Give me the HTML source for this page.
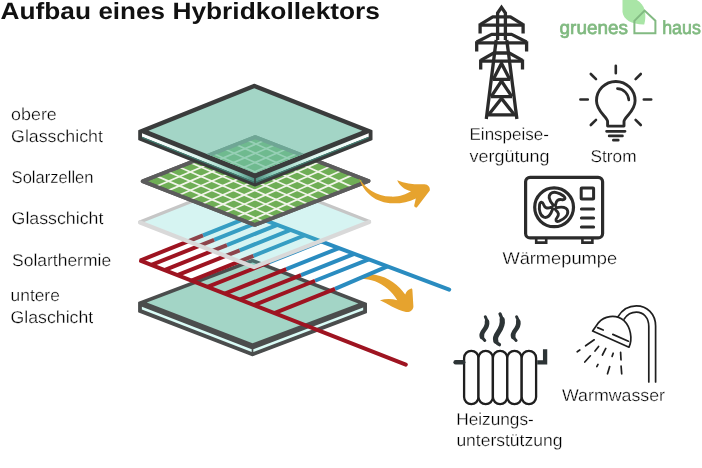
<!DOCTYPE html>
<html><head><meta charset="utf-8"><title>Aufbau eines Hybridkollektors</title>
<style>
html,body{margin:0;padding:0;background:#fff;}
body{width:702px;height:468px;overflow:hidden;font-family:"Liberation Sans",sans-serif;}
svg{display:block;will-change:transform;text-rendering:geometricPrecision;}
</style></head><body>
<svg width="702" height="468" viewBox="0 0 702 468">
<rect width="702" height="468" fill="#ffffff"/>
<g id="g3">
<polygon points="252.50,259.50 366.20,303.40 366.20,312.60 252.50,355.50 138.90,311.80 138.90,302.60" fill="#4b4d4d" stroke="#4b4d4d" stroke-width="1.6" stroke-linejoin="round"/>
<polygon points="252.50,262.50 358.35,303.40 252.50,343.30 146.75,302.60" fill="#a3d5c6"/>
<polygon points="141.90,306.80 251.70,349.30 251.70,352.00 141.90,309.50" fill="#d9fbf6"/>
<polygon points="363.20,307.60 253.30,349.30 253.30,352.00 363.20,310.30" fill="#d9fbf6"/>
</g>
<path d="M354.3 279.4 C360 275.5 368 273.8 375 274.8 C389 277 399 286 405.2 294.4 C406.2 291.5 408 289.6 411.2 288.5 C412 288.4 412.4 289 412.4 290 L413.4 306.5 C413.2 310 410 312.5 406 312 C396 309.5 388 304 380 300.2 C385.5 298.5 391.5 298.5 397.3 300.2 C392 291.5 384 284.5 375 281.2 C368 278.8 361 278.6 354.3 279.4Z" fill="#e6a32e"/>
<g id="pipes" fill="none" stroke-width="4" stroke-linecap="butt">
<path d="M203.00 235.41L252.56 215.58" stroke="#2a8cc0"/>
<path d="M140.12 260.56L203.00 235.41" stroke="#9e1421"/>
<path d="M214.10 239.90L264.08 219.91" stroke="#2a8cc0"/>
<path d="M151.41 264.98L214.10 239.90" stroke="#9e1421"/>
<path d="M226.90 245.08L277.35 224.90" stroke="#2a8cc0"/>
<path d="M164.43 270.07L226.90 245.08" stroke="#9e1421"/>
<path d="M239.70 250.27L290.63 229.90" stroke="#2a8cc0"/>
<path d="M177.44 275.17L239.70 250.27" stroke="#9e1421"/>
<path d="M253.40 255.82L304.84 235.24" stroke="#2a8cc0"/>
<path d="M191.37 280.63L253.40 255.82" stroke="#9e1421"/>
<path d="M269.30 262.26L321.34 241.44" stroke="#2a8cc0"/>
<path d="M207.54 286.96L269.30 262.26" stroke="#9e1421"/>
<path d="M286.30 269.14L338.97 248.07" stroke="#2a8cc0"/>
<path d="M224.83 293.73L286.30 269.14" stroke="#9e1421"/>
<path d="M301.00 275.10L354.22 253.81" stroke="#2a8cc0"/>
<path d="M239.78 299.58L301.00 275.10" stroke="#9e1421"/>
<path d="M315.00 280.76L368.75 259.27" stroke="#2a8cc0"/>
<path d="M254.02 305.16L315.00 280.76" stroke="#9e1421"/>
<path d="M335.00 288.87L387.47 266.30" stroke="#2a8cc0"/>
<path d="M274.35 313.12L335.00 288.87" stroke="#9e1421"/>
<path d="M252.56 215.58L449.2 289.6" stroke="#2a8cc0" stroke-linecap="round"/>
<path d="M141.0 260.9L405.8 364.6" stroke="#9e1421" stroke-linecap="round"/>
</g>
<polygon points="254.50,176.50 369.40,221.50 254.00,266.60 139.80,222.00" fill="rgba(90,212,204,0.25)"/>
<polyline points="139.80,222.00 254.50,176.50 369.40,221.50" fill="none" stroke="#c6c6c6" stroke-width="3" stroke-linejoin="round" stroke-linecap="round"/>
<polyline points="140.10,222.50 254.00,267.10 369.10,222.00" fill="none" stroke="#d9d9d9" stroke-width="4.2" stroke-linejoin="round" stroke-linecap="round"/>
<g id="solar">
<polygon points="255.20,137.00 368.60,181.00 254.80,225.00 142.60,181.20" fill="#6fae56" stroke="#5c5c5c" stroke-width="3.6" stroke-linejoin="round"/>
<g stroke="#f2f5ea" stroke-width="1.7">
<path d="M156.05 186.45L264.18 140.48"/>
<path d="M156.10 175.90L263.81 221.52"/>
<path d="M167.41 190.89L275.25 144.78"/>
<path d="M167.50 171.43L274.92 217.22"/>
<path d="M178.77 195.32L286.32 149.07"/>
<path d="M178.90 166.95L286.03 212.93"/>
<path d="M190.13 199.75L297.39 153.37"/>
<path d="M190.30 162.48L297.14 208.63"/>
<path d="M201.49 204.19L308.46 157.66"/>
<path d="M201.70 158.00L308.25 204.34"/>
<path d="M212.85 208.62L319.53 161.96"/>
<path d="M213.10 153.53L319.36 200.04"/>
<path d="M224.21 213.06L330.60 166.26"/>
<path d="M224.50 149.05L330.47 195.74"/>
<path d="M235.57 217.49L341.67 170.55"/>
<path d="M235.90 144.58L341.58 191.45"/>
<path d="M246.93 221.93L352.74 174.85"/>
<path d="M247.30 140.10L352.69 187.15"/>
</g>
<polygon points="255.20,137.00 368.60,181.00 254.80,225.00 142.60,181.20" fill="none" stroke="#5c5c5c" stroke-width="3.6" stroke-linejoin="round"/>
</g>
<path d="M359.3 178.4 C365 188 376 196 391 196.6 C399 197 406 194.5 411 191.3 C404 189.5 399.5 185.5 397.2 180.2 C406 184 416 184.6 424.5 184.2 C428 184.4 430.3 187 429.8 190.6 L416.8 207.4 C415.5 208 414.3 207 414.2 205.6 L415.8 198.4 C408 202.5 399 203.8 390 203.2 C373 201.5 362.5 190 359.3 178.4Z" fill="#e6a32e"/>
<defs><clipPath id="cg1"><polygon points="254.60,88.20 362.20,130.70 255.00,173.00 148.40,130.70"/></clipPath>
<linearGradient id="sL" x1="0" x2="1" y1="0" y2="0"><stop offset="0" stop-color="#ffffff"/><stop offset=".5" stop-color="#dcf6ef"/><stop offset=".85" stop-color="#8ccdbb"/><stop offset="1" stop-color="#4f8f80"/></linearGradient>
<linearGradient id="sR" x1="0" x2="1" y1="0" y2="0"><stop offset="0" stop-color="#4f8f80"/><stop offset=".15" stop-color="#8ccdbb"/><stop offset=".5" stop-color="#dcf6ef"/><stop offset="1" stop-color="#ffffff"/></linearGradient>
</defs>
<g id="g1">
<polygon points="254.30,84.50 371.70,130.70 371.70,139.50 255.00,185.80 139.00,139.50 139.00,130.70" fill="#3a3c3c" stroke="#3a3c3c" stroke-width="1.6" stroke-linejoin="round"/>
<polygon points="254.30,88.27 362.22,130.70 255.00,173.23 148.48,130.70" fill="#a3d5c6"/>
<polygon points="142.00,133.20 254.20,178.30 254.20,181.80 142.00,136.70" fill="url(#sL)"/>
<polygon points="368.70,133.20 255.80,178.30 255.80,181.80 368.70,136.70" fill="url(#sR)"/>
<polygon points="142.00,136.70 254.20,181.80 254.20,183.10 142.00,138.00" fill="#3f7d70"/>
<polygon points="368.70,136.70 255.80,181.80 255.80,183.10 368.70,138.00" fill="#3f7d70"/>
<g clip-path="url(#cg1)">
<polygon points="255.20,137.00 368.60,181.00 254.80,225.00 142.60,181.20" fill="#6fba8f" stroke="#6fa695" stroke-width="3.6" stroke-linejoin="round"/>
<g stroke="#97d0b6" stroke-width="1.7">
<path d="M156.05 186.45L264.18 140.48"/>
<path d="M156.10 175.90L263.81 221.52"/>
<path d="M167.41 190.89L275.25 144.78"/>
<path d="M167.50 171.43L274.92 217.22"/>
<path d="M178.77 195.32L286.32 149.07"/>
<path d="M178.90 166.95L286.03 212.93"/>
<path d="M190.13 199.75L297.39 153.37"/>
<path d="M190.30 162.48L297.14 208.63"/>
<path d="M201.49 204.19L308.46 157.66"/>
<path d="M201.70 158.00L308.25 204.34"/>
<path d="M212.85 208.62L319.53 161.96"/>
<path d="M213.10 153.53L319.36 200.04"/>
<path d="M224.21 213.06L330.60 166.26"/>
<path d="M224.50 149.05L330.47 195.74"/>
<path d="M235.57 217.49L341.67 170.55"/>
<path d="M235.90 144.58L341.58 191.45"/>
<path d="M246.93 221.93L352.74 174.85"/>
<path d="M247.30 140.10L352.69 187.15"/>
</g>
<polygon points="255.20,137.00 368.60,181.00 254.80,225.00 142.60,181.20" fill="none" stroke="#6fa695" stroke-width="3.6" stroke-linejoin="round"/>
</g>
</g>
<!-- ===== pylon ===== -->
<g id="pylon" fill="none" stroke="#2b2b2b" stroke-width="3.3" stroke-linejoin="miter" stroke-linecap="butt">
  <path d="M497.6 40 L497.6 13 L501.5 7.4 L505.4 13 L505.4 40"/>
  <path d="M496.2 40 L486.3 119"/>
  <path d="M506.8 40 L516.9 119"/>
  <!-- arm 1 -->
  <path d="M480.1 33.6 L480.1 25.2 L523.1 25.2 L523.1 33.6"/>
  <path d="M480.1 24.6 L492.8 16.8 L510.4 16.8 L523.1 24.6" stroke-linejoin="round"/>
  <!-- arm 2 -->
  <path d="M476.7 51.6 L476.7 42.8 L526.6 42.8 L526.6 51.6"/>
  <path d="M476.7 42 L491.6 34.4 L511.6 34.4 L526.6 42" stroke-linejoin="round"/>
  <!-- arm 3 -->
  <path d="M480.7 69.4 L480.7 61.2 L522.5 61.2 L522.5 69.4"/>
  <path d="M480.7 60.4 L493.8 53 L509.2 53 L522.5 60.4" stroke-linejoin="round"/>
  <!-- lower braces -->
  <path d="M493 79.4 H510 M491 96.6 H512 M488 114.8 H515"/>
  <path d="M493.2 79.4 L501.5 63.4 L509.8 79.4"/>
  <path d="M491.2 96.6 L501.5 81 L511.8 96.6"/>
  <path d="M488.6 114.8 L501.5 98.4 L514.4 114.8"/>
</g>

<!-- ===== bulb ===== -->
<g id="bulb" fill="none" stroke="#2b2b2b" stroke-width="2.9" stroke-linecap="round" stroke-linejoin="round">
  <path d="M607.6 126.1 V121.6 C607.6 116.8 596.5 111.8 596.5 100.7 A19.3 19.3 0 0 1 635.1 100.7 C635.1 111.8 624 116.8 624 121.6 V126.1 Z"/>
  <path d="M617.4 88.6 A11.8 11.8 0 0 1 628.8 100" stroke-width="2.6"/>
  <path d="M606.6 131.3 H625 M609.2 135.9 H622.4 M613.4 140.2 H618.2" stroke-width="2.8"/>
  <path d="M615.8 65.8 V73.2 M580.4 99.5 H587.8 M643.8 99.5 H651.2 M590.8 74 L596 79.2 M640.8 74 L635.6 79.2 M590.8 125 L596 119.8 M640.8 125 L635.6 119.8" stroke-width="2.6"/>
</g>

<!-- ===== heat pump ===== -->
<g id="pump" fill="none" stroke="#2b2b2b" stroke-width="3.2" stroke-linecap="round" stroke-linejoin="round">
  <rect x="525.6" y="177.3" width="77" height="60.6" rx="4.5"/>
  <circle cx="554.1" cy="207.3" r="19.4"/>
  <rect x="581.2" y="187.9" width="12.4" height="11.2" rx=".6" stroke-width="3"/>
  <path d="M581.4 209.1 H593.6 M581.4 218 H593.6 M581.4 226.9 H593.6" stroke-width="3"/>
  <path d="M536.2 239 V242.6 H546.2 V239 M582.4 239 V242.6 H592.4 V239" stroke-width="2.6" stroke-linejoin="miter" stroke-linecap="butt"/>
  <g stroke-width="2.9">
    <path d="M553.2 205.0 C549.4 200.6 547.6 196.4 550.6 193.6 C553.6 191.0 559.4 192.6 563.6 196.0 C566.2 198.4 564.6 200.2 561.6 199.6 C558.2 199.0 556.2 200.6 555.6 204.4" transform="rotate(0 554.1 207.3)"/>
    <path d="M553.2 205.0 C549.4 200.6 547.6 196.4 550.6 193.6 C553.6 191.0 559.4 192.6 563.6 196.0 C566.2 198.4 564.6 200.2 561.6 199.6 C558.2 199.0 556.2 200.6 555.6 204.4" transform="rotate(120 554.1 207.3)"/>
    <path d="M553.2 205.0 C549.4 200.6 547.6 196.4 550.6 193.6 C553.6 191.0 559.4 192.6 563.6 196.0 C566.2 198.4 564.6 200.2 561.6 199.6 C558.2 199.0 556.2 200.6 555.6 204.4" transform="rotate(240 554.1 207.3)"/>
  </g>
  <circle cx="554.1" cy="207.3" r="1.9" stroke-width="2.2"/>
</g>

<!-- ===== radiator ===== -->
<g id="radiator">
  <g fill="#fff" stroke="#1f1f1f" stroke-width="2.3">
    <rect x="464.1" y="350.8" width="14.4" height="53.4" rx="7.2"/>
    <rect x="478.5" y="350.8" width="14.4" height="53.4" rx="7.2"/>
    <rect x="492.9" y="350.8" width="14.4" height="53.4" rx="7.2"/>
    <rect x="507.3" y="350.8" width="14.4" height="53.4" rx="7.2"/>
    <rect x="521.7" y="350.8" width="14.4" height="53.4" rx="7.2"/>
  </g>
  <path d="M455.6 362.3 H463.2" fill="none" stroke="#2d3436" stroke-width="4.4" stroke-linecap="round"/>
  <path d="M537.2 362.3 H545.1 V349.2" fill="none" stroke="#2d3436" stroke-width="4.3" stroke-linecap="butt" stroke-linejoin="miter"/>
  <g fill="none" stroke="#2d3436" stroke-linecap="round">
    <path d="M485.3 316.8 C488.8 322.3 486.9 326.6 483.7 330.6 C480.6 334.4 481.6 338.2 484.8 340.4" stroke-width="3"/>
    <path d="M487 321.6 C487.6 325 486 327.8 483.7 330.6 C481.8 333 481.4 335.2 482 337" stroke-width="4.6"/>
    <path d="M500.1 314 C504.2 321.2 502.3 326.6 498.2 332.4 C493.9 338.3 495.2 342.4 499.4 344.6" stroke-width="3.4"/>
    <path d="M502.2 319.6 C503 324.6 501 328.4 498.2 332.4 C495.6 336 495 338.8 495.8 341" stroke-width="5.2"/>
    <path d="M516.6 316.8 C520.1 322.3 518.2 326.6 515 330.6 C511.9 334.4 512.9 338.2 516.1 340.4" stroke-width="3"/>
    <path d="M518.3 321.6 C518.9 325 517.3 327.8 515 330.6 C513.1 333 512.7 335.2 513.3 337" stroke-width="4.6"/>
  </g>
</g>

<!-- ===== shower ===== -->
<g id="shower" fill="none" stroke="#1f1f1f" stroke-width="1.7" stroke-linecap="round" stroke-linejoin="round">
  <path d="M655.6 382 V326 C655.6 314 647 305.8 636.4 305.8 C628 305.8 622 310 618 316.6"/>
  <path d="M648.8 382 V326.6 C648.8 317.6 643.4 312.2 636.4 312.2 C631 312.2 627 314.8 624.2 319"/>
  <path d="M592.6 331 L629 347.2 C632.8 338.6 630.6 327 624 320.6 C615.4 313.4 603.6 316.4 598.6 322.6 Z" fill="#fff"/>
  <path d="M597.6 327.6 L603.2 330 M612.8 334.4 L628.4 341.2"/>
  <path d="M585.6 345.8 L594.2 339.8 M577.2 351.8 L579.8 350 M595 351 L598.6 346.4 M584.8 362 L590.4 355.8 M602.4 355 L605.8 348.4 M596.8 366.6 L598 364.4 M612.1 356.4 L613.2 353.2 M607.5 373.8 L609.7 366.6 M620.6 352.4 L621 359.8 M621.1 366.2 L621.7 373.8"/>
</g>

<!-- ===== logo ===== -->
<g id="logo">
  <path d="M622.5 0 V12 C623.5 20 632 24.6 644.2 24.4 C645.6 20 645.6 15 644.8 10.6 C643.6 5.6 640.4 2 636.8 0 Z" fill="#a9e5a6"/>
  <path d="M634.4 33.2 V20.8 L644.6 10.6 L655.4 20.8 V33.2 Z" fill="none" stroke="#82ba82" stroke-width="2" stroke-linejoin="miter"/>
  <text x="559.6" y="34.2" font-family="Liberation Sans, sans-serif" font-weight="normal" stroke="#7fb97f" stroke-width="0.7" font-size="18.8" fill="#7fb97f" textLength="68.4" lengthAdjust="spacingAndGlyphs">gruenes</text>
  <text x="662.2" y="34.2" font-family="Liberation Sans, sans-serif" font-weight="normal" stroke="#7fb97f" stroke-width="0.7" font-size="18.8" fill="#7fb97f" textLength="38.6" lengthAdjust="spacingAndGlyphs">haus</text>
</g>

<g font-family="Liberation Sans, sans-serif" fill="#111">
  <g font-weight="bold" font-size="23.5">
    <text x="0.6" y="19.4" textLength="90.4" lengthAdjust="spacingAndGlyphs">Aufbau</text>
    <text x="98.4" y="19.4" textLength="66.6" lengthAdjust="spacingAndGlyphs">eines</text>
    <text x="172.4" y="19.4" textLength="207.6" lengthAdjust="spacingAndGlyphs">Hybridkollektors</text>
  </g>
  <g font-size="17.2" fill="#000" stroke="#ffffff" stroke-width="0.3">
    <text x="11.1" y="119.8" textLength="45.7" lengthAdjust="spacingAndGlyphs">obere</text>
    <text x="11.1" y="142" textLength="91.8" lengthAdjust="spacingAndGlyphs">Glasschicht</text>
    <text x="11.6" y="182.6" textLength="81.9" lengthAdjust="spacingAndGlyphs">Solarzellen</text>
    <text x="11.6" y="223.6" textLength="91.8" lengthAdjust="spacingAndGlyphs">Glasschicht</text>
    <text x="12" y="265.9" textLength="99.1" lengthAdjust="spacingAndGlyphs">Solarthermie</text>
    <text x="10.6" y="301.4" textLength="49.2" lengthAdjust="spacingAndGlyphs">untere</text>
    <text x="10.6" y="322.8" textLength="82.6" lengthAdjust="spacingAndGlyphs">Glaschicht</text>
    <text x="469.5" y="139.6" textLength="79.5" lengthAdjust="spacingAndGlyphs">Einspeise-</text>
    <text x="469.5" y="161.7" textLength="79.9" lengthAdjust="spacingAndGlyphs">vergütung</text>
    <text x="590.6" y="162.3" textLength="45.9" lengthAdjust="spacingAndGlyphs">Strom</text>
    <text x="502.4" y="263.8" textLength="114.7" lengthAdjust="spacingAndGlyphs">Wärmepumpe</text>
    <text x="456.2" y="424.6" textLength="77.6" lengthAdjust="spacingAndGlyphs">Heizungs-</text>
    <text x="456.4" y="446.2" textLength="106" lengthAdjust="spacingAndGlyphs">unterstützung</text>
    <text x="562" y="401.4" textLength="103" lengthAdjust="spacingAndGlyphs">Warmwasser</text>
  </g>
</g>

</svg>
</body></html>
